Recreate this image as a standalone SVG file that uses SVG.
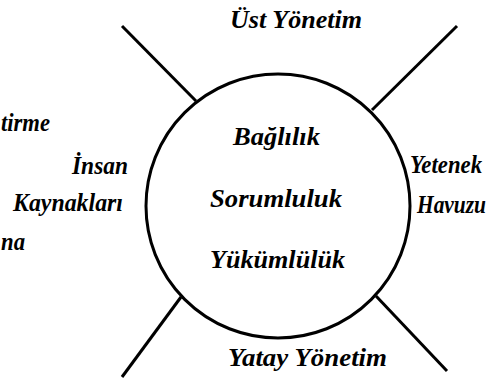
<svg xmlns="http://www.w3.org/2000/svg" width="492" height="378" viewBox="0 0 492 378">
<rect width="492" height="378" fill="#fff"/>
<g id="connectors" stroke="#000" stroke-width="3" fill="none">
<line x1="122" y1="26" x2="196" y2="101"/>
<line x1="457" y1="26" x2="372" y2="110"/>
<line x1="122" y1="377" x2="181" y2="297"/>
<line x1="376" y1="296" x2="447" y2="371"/>
</g>
<g id="center">
<circle cx="278" cy="206" r="132" fill="none" stroke="#000" stroke-width="3"/>
<text font-family="Liberation Serif" font-weight="bold" font-style="italic" font-size="25" x="233" y="145" textLength="87" lengthAdjust="spacingAndGlyphs">Ba&#287;l&#305;l&#305;k</text>
<text font-family="Liberation Serif" font-weight="bold" font-style="italic" font-size="25" x="210" y="207" textLength="132" lengthAdjust="spacingAndGlyphs">Sorumluluk</text>
<text font-family="Liberation Serif" font-weight="bold" font-style="italic" font-size="25" x="210" y="268" textLength="135" lengthAdjust="spacingAndGlyphs">Y&#252;k&#252;ml&#252;l&#252;k</text>
</g>
<g id="top"><text font-family="Liberation Serif" font-weight="bold" font-style="italic" font-size="25" x="230" y="28" textLength="132" lengthAdjust="spacingAndGlyphs">&#220;st Y&#246;netim</text></g>
<g id="bottom"><text font-family="Liberation Serif" font-weight="bold" font-style="italic" font-size="25" x="228" y="366" textLength="159" lengthAdjust="spacingAndGlyphs">Yatay Y&#246;netim</text></g>
<g id="right"><text font-family="Liberation Serif" font-weight="bold" font-style="italic" font-size="25" x="410" y="173" textLength="72" lengthAdjust="spacingAndGlyphs">Yetenek</text><text font-family="Liberation Serif" font-weight="bold" font-style="italic" font-size="25" x="417" y="213" textLength="69" lengthAdjust="spacingAndGlyphs">Havuzu</text></g>
<g id="left"><text font-family="Liberation Serif" font-weight="bold" font-style="italic" font-size="25" x="72" y="174" textLength="56" lengthAdjust="spacingAndGlyphs">&#304;nsan</text><text font-family="Liberation Serif" font-weight="bold" font-style="italic" font-size="25" x="13" y="211" textLength="110" lengthAdjust="spacingAndGlyphs">Kaynaklar&#305;</text></g>
<g id="cut1"><text font-family="Liberation Serif" font-weight="bold" font-style="italic" font-size="25" x="1" y="131" textLength="49" lengthAdjust="spacingAndGlyphs">tirme</text></g>
<g id="cut2"><text font-family="Liberation Serif" font-weight="bold" font-style="italic" font-size="25" x="1" y="250" textLength="24" lengthAdjust="spacingAndGlyphs">na</text></g>
</svg>
